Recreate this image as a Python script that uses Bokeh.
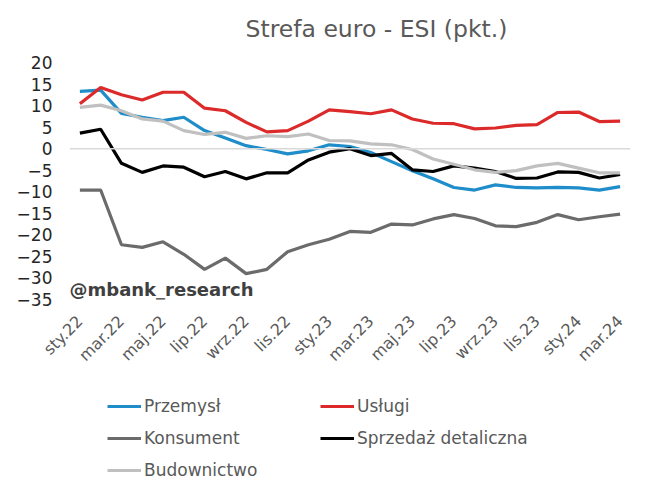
import math
from bokeh.plotting import figure
from bokeh.layouts import column
from bokeh.models import Range1d, FixedTicker, Span, Label, Legend, LegendItem
from bokeh.embed import file_html
from bokeh.resources import INLINE

month_labels = ["sty.22", "lut.22", "mar.22", "kwi.22", "maj.22", "cze.22", "lip.22", "sie.22",
                "wrz.22", "paź.22", "lis.22", "gru.22", "sty.23", "lut.23", "mar.23", "kwi.23",
                "maj.23", "cze.23", "lip.23", "sie.23", "wrz.23", "paź.23", "lis.23", "gru.23",
                "sty.24", "lut.24", "mar.24"]

przemysl = [13.3, 13.6, 8.2, 7.3, 6.5, 7.3, 4.2, 2.5, 0.7, -0.2, -1.2, -0.5, 0.9, 0.5,
            -0.9, -3.0, -5.1, -7.0, -9.0, -9.6, -8.4, -9.0, -9.1, -9.0, -9.1, -9.6, -8.8]
uslugi = [10.4, 14.2, 12.5, 11.3, 13.1, 13.1, 9.4, 8.8, 6.1, 3.9, 4.2, 6.4, 9.0, 8.6,
          8.1, 9.0, 6.9, 5.9, 5.8, 4.6, 4.8, 5.4, 5.6, 8.4, 8.5, 6.3, 6.4]
konsument = [-9.6, -9.6, -22.3, -22.9, -21.6, -24.5, -28.0, -25.4, -29.0, -28.0, -23.9,
             -22.3, -21.0, -19.2, -19.4, -17.5, -17.7, -16.3, -15.3, -16.2, -17.9, -18.1,
             -17.1, -15.3, -16.5, -15.8, -15.2]
sprzedaz = [3.6, 4.5, -3.4, -5.5, -4.0, -4.3, -6.5, -5.3, -7.0, -5.6, -5.6, -2.6, -0.8,
            0.0, -1.6, -1.1, -4.9, -5.3, -4.0, -4.5, -5.3, -6.9, -6.8, -5.4, -5.5, -6.8, -6.0]
budownictwo = [9.6, 10.1, 8.8, 6.9, 6.4, 4.2, 3.3, 3.8, 2.4, 3.0, 2.8, 3.4, 1.9, 1.8,
               1.1, 0.9, -0.2, -2.4, -3.6, -4.9, -5.5, -5.1, -4.0, -3.4, -4.5, -5.6, -5.6]

y_ticks = [20, 15, 10, 5, 0, -5, -10, -15, -20, -25, -30, -35]

series_names = ["Przemysł", "Usługi", "Konsument", "Sprzedaż detaliczna", "Budownictwo"]
series_values = [przemysl, uslugi, konsument, sprzedaz, budownictwo]
series_colors = ["#1f8dc9", "#dc2a2a", "#6b6b6b", "#000000", "#c0c0c0"]

title_text = "Strefa euro - ESI (pkt.)"

x = list(range(len(month_labels)))

FONT = "DejaVu Sans"
H0 = 50          # title strip
H1 = 335         # chart
H2 = 488 - H0 - H1  # legend strip


def blank_figure(h):
    f = figure(width=655, height=h, output_backend="svg", toolbar_location=None,
               x_range=Range1d(0, 1), y_range=Range1d(0, 1),
               min_border_left=0, min_border_right=0, min_border_top=0, min_border_bottom=0)
    f.axis.visible = False
    f.grid.visible = False
    f.title.visible = False
    f.outline_line_color = None
    f.background_fill_color = "white"
    f.border_fill_color = "white"
    return f


# title strip (its frame is aligned with the chart's frame by the column layout)
tf = blank_figure(H0)
tf.add_layout(Label(x=176, y=H0 - 28, x_units="screen", y_units="screen",
                    text=title_text, text_font=FONT, text_font_size="23.5px",
                    text_color="#595959", text_align="left", text_baseline="middle"))

p = figure(width=655, height=H1, output_backend="svg", toolbar_location=None,
           x_range=Range1d(-0.5, len(month_labels) - 0.5), y_range=Range1d(-35, 20),
           min_border_left=69, min_border_right=25, min_border_top=62 - H0,
           min_border_bottom=H0 + H1 - 299)
p.title.visible = False
p.outline_line_color = None
p.xgrid.grid_line_color = None
p.ygrid.grid_line_color = None
p.background_fill_color = "white"
p.border_fill_color = "white"

p.add_layout(Span(location=0, dimension="width", line_color="#d9d9d9", line_width=1.5))

for name, vals, col in zip(series_names, series_values, series_colors):
    p.line(x, vals, line_color=col, line_width=3.2)

# axes
p.xaxis.ticker = FixedTicker(ticks=x[::2])
p.xaxis.major_label_overrides = {i: month_labels[i] for i in x[::2]}
p.xaxis.major_label_orientation = math.pi / 4
p.xaxis.axis_line_color = None
p.xaxis.major_tick_line_color = None
p.xaxis.minor_tick_line_color = None
p.xaxis.major_label_text_font = FONT
p.xaxis.major_label_text_font_size = "16px"
p.xaxis.major_label_text_color = "#595959"
p.xaxis.major_label_standoff = 13

p.yaxis.ticker = FixedTicker(ticks=y_ticks)
p.yaxis.axis_line_color = None
p.yaxis.major_tick_line_color = None
p.yaxis.minor_tick_line_color = None
p.yaxis.major_label_text_font = FONT
p.yaxis.major_label_text_font_size = "17px"
p.yaxis.major_label_text_color = "#262626"
p.yaxis.major_label_standoff = 11

# watermark
p.add_layout(Label(x=0, y=10, x_units="screen", y_units="screen",
                   text="@mbank_research", text_font=FONT, text_font_size="18px",
                   text_font_style="bold", text_color="#404040",
                   text_align="left", text_baseline="middle"))

# legend strip
lf = blank_figure(H2)
legend_renderers = {}
for name, col in zip(series_names, series_colors):
    # off-range dummy line: only its legend swatch is visible
    legend_renderers[name] = lf.line([-5, -4], [-5, -4], line_color=col, line_width=3.2)


def make_legend(names, loc):
    lg = Legend(items=[LegendItem(label=n, renderers=[legend_renderers[n]]) for n in names],
                location=loc, orientation="vertical")
    lg.label_text_font = FONT
    lg.label_text_font_size = "17px"
    lg.label_text_color = "#595959"
    lg.glyph_width = 34
    lg.glyph_height = 20
    lg.label_height = 20
    lg.label_standoff = 3
    lg.spacing = 12
    lg.padding = 0
    lg.margin = 0
    lg.border_line_color = None
    lg.background_fill_alpha = 0
    return lg


lf.add_layout(make_legend(["Przemysł", "Konsument", "Budownictwo"], (38, 8)))
lf.add_layout(make_legend(["Usługi", "Sprzedaż detaliczna"], (251, 40)))

layout = column(tf, p, lf, spacing=0)
open("out.html", "w").write(file_html(layout, INLINE))
